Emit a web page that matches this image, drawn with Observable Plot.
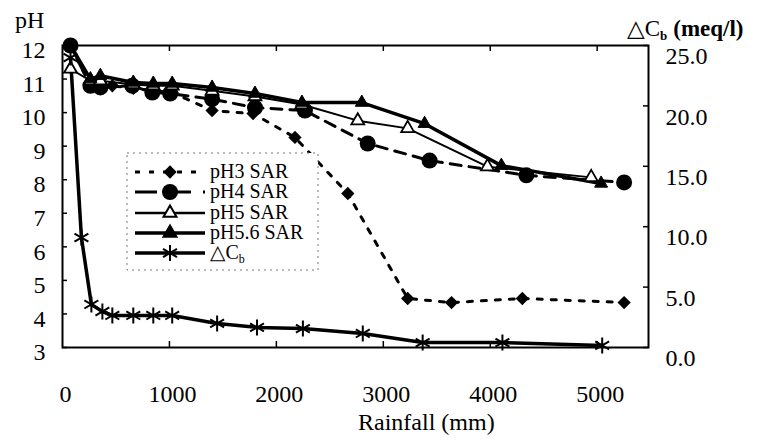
<!DOCTYPE html>
<html><head><meta charset="utf-8">
<script src="https://cdn.jsdelivr.net/npm/d3@7"></script>
<script src="https://cdn.jsdelivr.net/npm/@observablehq/plot@0.6"></script>
<style>
body{margin:0;background:#fff;}
#wrap{position:relative;width:764px;height:441px;}
#wrap svg text, #wrap svg tspan{font-family:"Liberation Serif","DejaVu Serif",serif !important;}
</style></head><body><div id="wrap"></div>
<script>
// ---- data (rainfall in mm) ----
const rainPH3 = [75, 261, 466, 662, 849, 1026, 1399, 1782, 2174, 2668, 3228, 3638, 4300, 5252];
const valPH3  = [12.0, 10.8, 10.8, 10.72, 10.66, 10.6, 10.06, 9.97, 9.26, 7.59, 4.46, 4.34, 4.46, 4.34];

const rainPH4 = [75, 261, 354, 653, 840, 1007, 1399, 1800, 2267, 2854, 3433, 4338, 5252];
const valPH4  = [12.0, 10.8, 10.75, 10.8, 10.6, 10.57, 10.4, 10.15, 10.06, 9.08, 8.57, 8.13, 7.92];

const rainPH5 = [75, 261, 354, 662, 849, 1026, 1399, 1800, 2239, 2761, 3228, 3974, 4944];
const valPH5  = [11.3, 10.95, 10.95, 10.84, 10.8, 10.8, 10.65, 10.48, 10.24, 9.76, 9.53, 8.39, 8.07];

const rainPH56 = [75, 261, 354, 662, 849, 1026, 1399, 1800, 2239, 2799, 3386, 4104, 5037];
const valPH56  = [12.0, 11.0, 11.1, 10.9, 10.87, 10.87, 10.75, 10.57, 10.3, 10.3, 9.67, 8.42, 7.89];

const rainCb = [75, 177, 270, 373, 466, 662, 849, 1026, 1446, 1819, 2248, 2808, 3368, 4114, 5047];
const valCb  = [24.0, 9.1, 3.56, 2.98, 2.65, 2.65, 2.65, 2.65, 1.99, 1.66, 1.57, 1.16, 0.41, 0.41, 0.17];

const xTicks  = [0, 1000, 2000, 3000, 4000, 5000];
const pHTicks = [3, 4, 5, 6, 7, 8, 9, 10, 11, 12];
const cbTicks = [0, 5, 10, 15, 20, 25];
const seriesNames = ["pH3 SAR", "pH4 SAR", "pH5 SAR", "pH5.6 SAR"];

// ---- layout ----
const W = 764, H = 441, ML = 62, MR = 116, MT = 45, MB = 94;
const FW = W - ML - MR, FH = H - MT - MB;
const FONT = '"Liberation Serif","DejaVu Serif",serif';

// right axis (ΔCb) mapped into the pH scale
const cbToPH = d3.scaleLinear([0, 25], [3, 12]);
const toRows = (rain, val) => rain.map((r, i) => ({r, v: val[i]}));
const pH3 = toRows(rainPH3, valPH3);
const pH4 = toRows(rainPH4, valPH4);
const pH5 = toRows(rainPH5, valPH5);
const pH56 = toRows(rainPH56, valPH56);
const cb = rainCb.map((r, i) => ({r, v: cbToPH(valCb[i])}));

const plot = Plot.plot({
  width: W, height: H,
  marginLeft: ML, marginRight: MR, marginTop: MT, marginBottom: MB,
  style: {fontFamily: FONT, fontSize: "24px", background: "white", color: "black", overflow: "visible"},
  x: {domain: [0, 5480]},
  y: {domain: [3, 12]},
  marks: [
    Plot.axisX(xTicks, {anchor: "bottom", tickSize: 0, tickPadding: 37, dx: 3, label: null, fontSize: 24,
      tickFormat: d => String(d)}),
    Plot.axisY(pHTicks, {anchor: "left", tickSize: 0, tickPadding: 17, dy: 5, label: null, fontSize: 24,
      tickFormat: d => String(d)}),
    Plot.axisY(cbTicks.map(cbToPH), {anchor: "right", tickSize: 0, tickPadding: 17, dy: 11, label: null, fontSize: 24,
      tickFormat: d => d3.format(".1f")(cbToPH.invert(d))}),
    // inside tick marks
    Plot.ruleX(xTicks.slice(1), {x: d => d, insetTop: FH - 6, stroke: "black", strokeWidth: 1.5}),
    Plot.ruleX(xTicks.slice(1), {x: d => d, insetBottom: FH - 6, stroke: "black", strokeWidth: 1.5}),
    Plot.ruleY(pHTicks, {y: d => d, insetRight: FW - 5, stroke: "black", strokeWidth: 1.5}),
    Plot.ruleY(cbTicks.map(cbToPH), {y: d => d, insetLeft: FW - 5, stroke: "black", strokeWidth: 1.5}),
    Plot.frame({stroke: "black", strokeWidth: 2}),
    // lines
    Plot.line(pH3, {x: "r", y: "v", stroke: "black", strokeWidth: 3, strokeDasharray: "5,9"}),
    Plot.line(pH4, {x: "r", y: "v", stroke: "black", strokeWidth: 3, strokeDasharray: "11,8"}),
    Plot.line(pH5, {x: "r", y: "v", stroke: "black", strokeWidth: 2}),
    Plot.line(pH56, {x: "r", y: "v", stroke: "black", strokeWidth: 3.5}),
    Plot.line(cb, {x: "r", y: "v", stroke: "black", strokeWidth: 3.5}),
    // markers
    Plot.dot(pH4, {x: "r", y: "v", symbol: "circle", r: 8, fill: "black"}),
    Plot.dot(pH3, {x: "r", y: "v", symbol: "diamond2", r: 6, fill: "black"}),
    Plot.dot(pH5, {x: "r", y: "v", symbol: "triangle", r: 4.8, fill: "white", stroke: "black", strokeWidth: 1.8}),
    Plot.dot(pH56, {x: "r", y: "v", symbol: "triangle", r: 4.8, fill: "black", stroke: "black", strokeWidth: 1}),
    Plot.dot(cb, {x: "r", y: "v", symbol: "asterisk", r: 7.6, stroke: "black", strokeWidth: 2})
  ]
});
document.getElementById("wrap").appendChild(plot);

// axis titles
const svg = d3.select(plot);
svg.append("text").attr("x", 15).attr("y", 28).attr("text-anchor", "start")
  .attr("font-size", 24).text("pH");
svg.append("text").attr("x", 358).attr("y", 430).attr("text-anchor", "start")
  .attr("font-size", 24).text("Rainfall (mm)");
const t = svg.append("text").attr("x", 627).attr("y", 36).attr("text-anchor", "start")
  .attr("font-size", 23).attr("font-weight", "bold");
t.append("tspan").attr("font-weight", "normal").text("△C");
t.append("tspan").attr("font-size", 13).attr("dy", 4).text("b");
t.append("tspan").attr("dy", -4).attr("dx", 6).text("(meq/l)");

// legend (inside the plot area)
const lg = svg.append("g").attr("transform", "translate(127,153)");
lg.append("rect").attr("width", 191).attr("height", 117).attr("fill", "white")
  .attr("stroke", "#777").attr("stroke-width", 1).attr("stroke-dasharray", "2,4");
const legendItems = [
  {name: seriesNames[0], dash: "5,9", w: 3, sym: d3.symbolDiamond2, size: Math.PI * 36, fill: "black", stroke: "none"},
  {name: seriesNames[1], dash: "22,12", w: 3, sym: d3.symbolCircle, size: Math.PI * 64, fill: "black", stroke: "none"},
  {name: seriesNames[2], dash: null, w: 2.5, sym: d3.symbolTriangle, size: Math.PI * 23, fill: "white", stroke: "black"},
  {name: seriesNames[3], dash: null, w: 3.5, sym: d3.symbolTriangle, size: Math.PI * 23, fill: "black", stroke: "black"},
  {name: "cb", dash: null, w: 3.5, sym: d3.symbolAsterisk, size: Math.PI * 58, fill: "none", stroke: "black"}
];
const rowY = [19, 39, 60, 80, 100];
legendItems.forEach((it, i) => {
  const g = lg.append("g").attr("transform", `translate(0,${rowY[i]})`);
  g.append("line").attr("x1", 8).attr("x2", 78).attr("stroke", "black").attr("stroke-width", it.w)
    .attr("stroke-dasharray", it.dash);
  g.append("path").attr("transform", "translate(43,0)").attr("d", d3.symbol(it.sym, it.size)())
    .attr("fill", it.fill).attr("stroke", it.stroke).attr("stroke-width", 2);
  const tx = g.append("text").attr("x", 83).attr("y", 6).attr("text-anchor", "start").attr("font-size", 20);
  if (it.name === "cb") {
    tx.append("tspan").text("△C");
    tx.append("tspan").attr("font-size", 12).attr("dy", 4).text("b");
  } else tx.text(it.name);
});
</script></body></html>
